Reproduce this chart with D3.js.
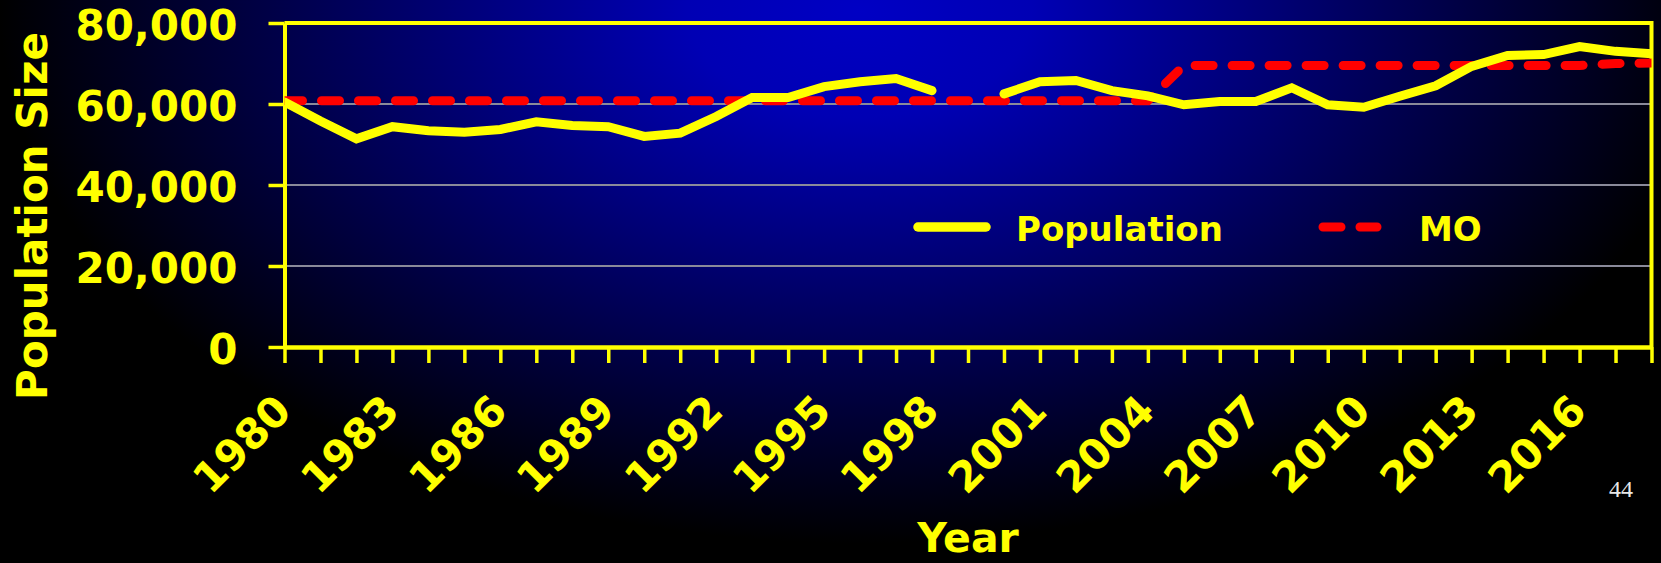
<!DOCTYPE html>
<html>
<head>
<meta charset="utf-8">
<script src="https://cdn.jsdelivr.net/npm/d3@7"></script>
<style>
	html, body { margin: 0; padding: 0; background: #000; overflow: hidden; }
	svg { display: block; }
	text { font-family: "DejaVu Sans", Verdana, sans-serif; font-weight: bold; }
</style>
</head>
<body>
<svg width="1661" height="563"></svg>
<script>
// Data
var years = d3.range(1980, 2019);
var population = [60500, 55800, 51400, 54400, 53400, 53000, 53700, 55600, 54700, 54400,
	52000, 52800, 56900, 61600, 61600, 64300, 65500, 66300, 63300, null,
	62500, 65500, 65800, 63300, 62000, 59800, 60600, 60600, 64000, 59800,
	59200, 61900, 64500, 69300, 72000, 72200, 74200, 73000, 72400];
var mo = [60800, 60800, 60800, 60800, 60800, 60800, 60800, 60800, 60800, 60800,
	60800, 60800, 60800, 60800, 60800, 60800, 60800, 60800, 60800, 60800,
	60800, 60800, 60800, 60800, 60800, 69500, 69500, 69500, 69500, 69500,
	69500, 69500, 69500, 69500, 69500, 69500, 69500, 70000, 70100];
var yTicks = [0, 20000, 40000, 60000, 80000];
var labelYears = d3.range(1980, 2019, 3);
var seriesNames = ["Population", "MO"];

var svg = d3.select("svg"),
	width = +svg.attr("width"),
	height = +svg.attr("height");

var yellow = "#ffff00", red = "#ff0000";

// Background: blue glow from the top middle, black around the edges
var defs = svg.append("defs");
var grad = defs.append("radialGradient")
	.attr("id", "bg")
	.attr("gradientUnits", "userSpaceOnUse")
	.attr("cx", 860).attr("cy", 10).attr("r", 860)
	.attr("gradientTransform", "translate(860,10) scale(1,0.62) translate(-860,-10)");
grad.append("stop").attr("offset", 0).attr("stop-color", "#0000c4");
grad.append("stop").attr("offset", 0.2).attr("stop-color", "#0000b4");
grad.append("stop").attr("offset", 1).attr("stop-color", "#000000");

svg.append("rect")
	.attr("width", width).attr("height", height)
	.attr("fill", "url(#bg)");

var x0 = 284.5, x1 = 1651.5, y0 = 347, y1 = 23;

var x = d3.scaleLinear().domain([1980, 2018]).range([x0, x1]);
var y = d3.scaleLinear().domain([0, 80000]).range([y0, y1]);

defs.append("clipPath").attr("id", "plot")
	.append("rect").attr("x", x0).attr("y", y1 - 10).attr("width", x1 - x0).attr("height", y0 - y1 + 10);

// Gridlines
svg.append("g")
	.selectAll("line")
	.data(yTicks.filter((d) => d > 0 && d < 80000))
	.enter().append("line")
	.attr("x1", x0).attr("x2", x1)
	.attr("y1", (d) => y(d)).attr("y2", (d) => y(d))
	.attr("stroke", "#8a8a9a")
	.attr("stroke-width", 2);

// Frame top and right
svg.append("path")
	.attr("d", "M" + x0 + "," + y1 + "H" + x1 + "V" + y0)
	.attr("fill", "none")
	.attr("stroke", yellow)
	.attr("stroke-width", 4);

// Y axis
var yAxis = svg.append("g")
	.attr("transform", "translate(" + x0 + ",0)")
	.call(d3.axisLeft(y).tickValues(yTicks).tickSize(16).tickSizeOuter(0).tickPadding(31).tickFormat(d3.format(",")));
yAxis.select(".domain").attr("stroke", yellow).attr("stroke-width", 4);
yAxis.selectAll(".tick line").attr("stroke", yellow).attr("stroke-width", 3.5);
yAxis.selectAll(".tick text")
	.attr("fill", yellow)
	.attr("font-size", 42)
	.attr("font-family", "DejaVu Sans")
	.attr("dy", "0.4em");

// X axis, a tick on every year, labels every third year
var xAxis = svg.append("g")
	.attr("transform", "translate(0," + y0 + ")")
	.call(d3.axisBottom(x).tickValues(years).tickSize(16).tickSizeOuter(0).tickFormat(""));
xAxis.select(".domain").attr("stroke", yellow).attr("stroke-width", 4.5);
xAxis.selectAll(".tick line").attr("stroke", yellow).attr("stroke-width", 3.5);

svg.append("g")
	.selectAll("text")
	.data(labelYears)
	.enter().append("text")
	.attr("transform", (d) => "translate(" + (x(d) + 9) + ",413) rotate(-45)")
	.attr("text-anchor", "end")
	.attr("fill", yellow)
	.attr("font-size", 42)
	.text((d) => d);

// Lines
var line = d3.line()
	.defined((d) => d[1] != null)
	.x((d) => x(d[0]))
	.y((d) => y(d[1]));

var plot = svg.append("g").attr("clip-path", "url(#plot)");

plot.append("path")
	.datum(years.map((yr, i) => [yr, mo[i]]))
	.attr("d", line)
	.attr("fill", "none")
	.attr("stroke", red)
	.attr("stroke-width", 9)
	.attr("stroke-dasharray", "18,19")
	.attr("stroke-linecap", "round");

plot.append("path")
	.datum(years.map((yr, i) => [yr, population[i]]))
	.attr("d", line)
	.attr("fill", "none")
	.attr("stroke", yellow)
	.attr("stroke-width", 9)
	.attr("stroke-linecap", "round")
	.attr("stroke-linejoin", "miter");

// Legend
var legend = svg.append("g");
legend.append("line")
	.attr("x1", 918).attr("x2", 986).attr("y1", 227).attr("y2", 227)
	.attr("stroke", yellow).attr("stroke-width", 9.5).attr("stroke-linecap", "round");
legend.append("text")
	.attr("x", 1016).attr("y", 240.5)
	.attr("fill", yellow).attr("font-size", 34)
	.text(seriesNames[0]);
legend.append("line")
	.attr("x1", 1323).attr("x2", 1377).attr("y1", 227).attr("y2", 227)
	.attr("stroke", red).attr("stroke-width", 9).attr("stroke-linecap", "round")
	.attr("stroke-dasharray", "18,19");
legend.append("text")
	.attr("x", 1419).attr("y", 240.5)
	.attr("fill", yellow).attr("font-size", 34)
	.text(seriesNames[1]);

// Axis titles
svg.append("text")
	.attr("transform", "translate(47,216) rotate(-90)")
	.attr("text-anchor", "middle")
	.attr("fill", yellow)
	.attr("font-size", 42)
	.text("Population Size");

svg.append("text")
	.attr("x", (x0 + x1) / 2).attr("y", 552)
	.attr("text-anchor", "middle")
	.attr("fill", yellow)
	.attr("font-size", 41)
	.text("Year");

// Slide number
svg.append("text")
	.attr("x", 1609).attr("y", 497)
	.attr("fill", "#e8e8e8")
	.attr("font-size", 24)
	.style("font-family", "'Liberation Serif', serif")
	.style("font-weight", "normal")
	.text("44");
</script>
</body>
</html>
